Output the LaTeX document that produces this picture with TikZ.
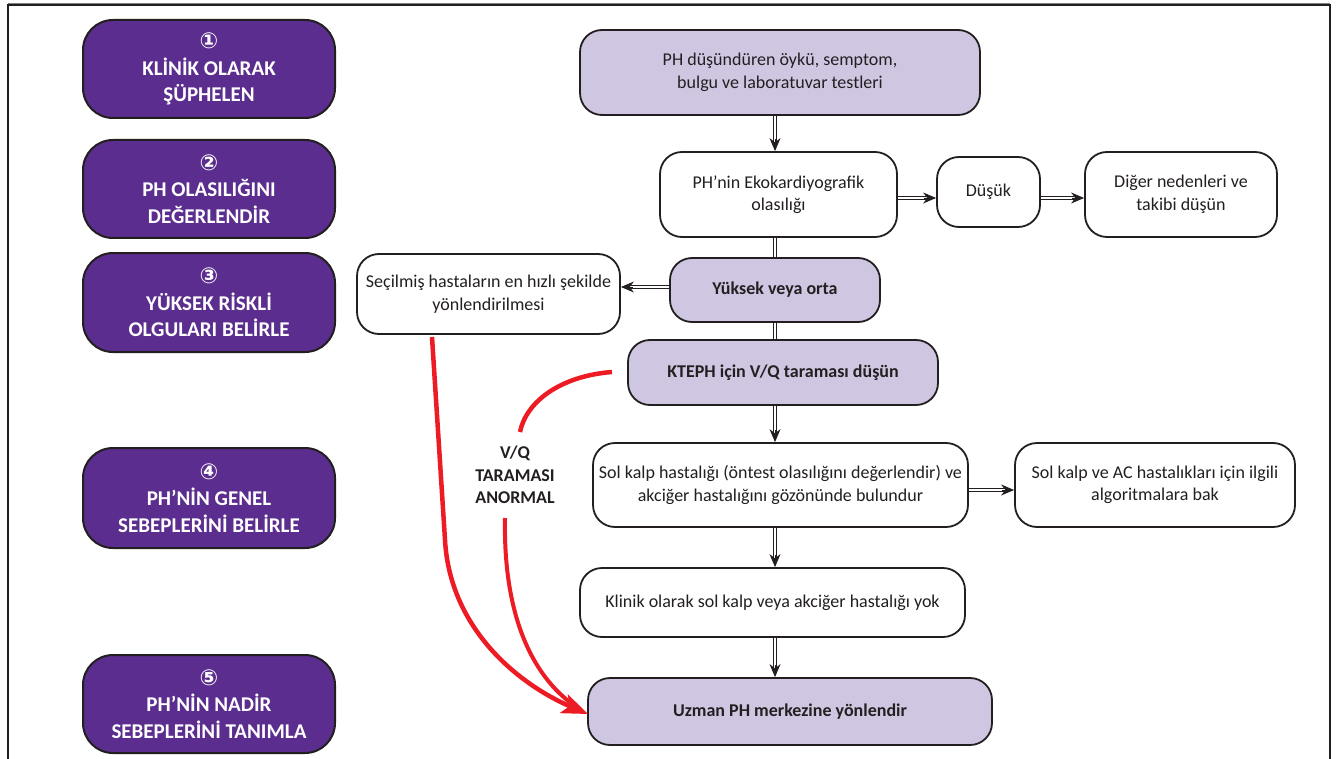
\documentclass[tikz,border=0pt]{standalone}
\usepackage{fontspec}
\setmainfont{Carlito}
\newfontfamily\symfont{DejaVu Sans}
\usetikzlibrary{arrows.meta,calc}
\definecolor{phpurple}{RGB}{91,45,142}
\definecolor{phlav}{RGB}{207,199,226}
\definecolor{phred}{RGB}{237,28,36}
\definecolor{phline}{RGB}{35,31,32}
\newcommand\circnum[1]{{\symfont\fontsize{22}{27}\selectfont #1}}
\begin{document}
\begin{tikzpicture}[x=1pt,y=-1pt,
  stepbox/.style={draw=phline, line width=2pt, rounded corners=30pt, fill=phpurple, text=white,
     font=\bfseries\fontsize{21}{26.5}\selectfont, align=center, minimum width=252pt, inner sep=0pt},
  wbox/.style={draw=phline, line width=1.8pt, rounded corners=22pt, fill=white, text=phline,
     font=\fontsize{18}{22.5}\selectfont, align=center, inner sep=0pt},
  lbox/.style={wbox, fill=phlav},
  lboxb/.style={lbox, font=\bfseries\fontsize{18}{22.5}\selectfont},
  dbl/.style={draw=phline, double=white, double distance=1.8pt, line width=0.9pt},
  tipst/.style={-{Stealth[length=13pt,width=11pt]}, draw=phline, fill=phline, line width=0.9pt},
  redline/.style={draw=phred, line width=4.5pt},
]
\useasboundingbox (0,0) rectangle (1337,759);
% frame
\draw[line width=2pt, draw=phline] (8,759) -- (8,5) -- (1330,5) -- (1330,759);
\draw[line width=1pt, draw=gray] (8,3.5) -- (1330,3.5);

% left step boxes
\node[stepbox, minimum height=98pt] (s1) at (209,69) {\circnum{①}\\KLİNİK OLARAK\\ŞÜPHELEN};
\node[stepbox, minimum height=98pt] (s2) at (209,189) {\circnum{②}\\PH OLASILIĞINI\\DEĞERLENDİR};
\node[stepbox, minimum height=99pt] (s3) at (209,302.5) {\circnum{③}\\YÜKSEK RİSKLİ\\OLGULARI BELİRLE};
\node[stepbox, minimum height=100pt] (s4) at (209,498) {\circnum{④}\\PH’NİN GENEL\\SEBEPLERİNİ BELİRLE};
\node[stepbox, minimum height=98pt] (s5) at (209,704) {\circnum{⑤}\\PH’NİN NADİR\\SEBEPLERİNİ TANIMLA};

% flow boxes
\node[lbox, minimum width=400pt, minimum height=85pt] (a) at (780,72.5) {PH düşündüren öykü, semptom,\\bulgu ve laboratuvar testleri};
\node[wbox, minimum width=237pt, minimum height=85pt] (b) at (778.5,194.5) {PH’nin Ekokardiyografik\\olasılığı};
\node[wbox, minimum width=103pt, minimum height=70pt] (dusuk) at (988.5,192) {Düşük};
\node[wbox, minimum width=192pt, minimum height=85pt] (diger) at (1181,194.5) {Diğer nedenleri ve\\takibi düşün};
\node[wbox, minimum width=263pt, minimum height=80pt] (secil) at (488.5,294) {Seçilmiş hastaların en hızlı şekilde\\yönlendirilmesi};
\node[lboxb, minimum width=210pt, minimum height=64pt] (yuksek) at (775,290) {Yüksek veya orta};
\node[lboxb, minimum width=310pt, minimum height=65pt] (kteph) at (783,372.5) {KTEPH için V/Q taraması düşün};
\node[wbox, minimum width=375pt, minimum height=84pt] (solk) at (780.5,485) {Sol kalp hastalığı (öntest olasılığını değerlendir) ve\\akciğer hastalığını gözönünde bulundur};
\node[wbox, minimum width=280pt, minimum height=84pt] (solac) at (1155,485) {Sol kalp ve AC hastalıkları için ilgili\\algoritmalara bak};
\node[wbox, minimum width=385pt, minimum height=69pt] (klinik) at (772.5,602.5) {Klinik olarak sol kalp veya akciğer hastalığı yok};
\node[lboxb, minimum width=404pt, minimum height=67pt] (uzman) at (790,711.5) {Uzman PH merkezine yönlendir};

\node[font=\bfseries\fontsize{18}{22.5}\selectfont, align=center, text=phline] (vq) at (515,475) {V/Q\\TARAMASI\\ANORMAL};

% column coordinate
\coordinate (col) at (775,0);

% plain double connectors
\draw[dbl] (b.south -| col) -- (yuksek.north -| col);
\draw[dbl] (yuksek.south -| col) -- (kteph.north -| col);

% double arrows
\newcommand\darr[2]{%
  \draw[dbl, shorten >=9pt] (#1) -- (#2);
  \draw[tipst] ($(#2)!12pt!(#1)$) -- (#2);}
\darr{a.south -| col}{b.north -| col}
\darr{kteph.south -| col}{solk.north -| col}
\darr{solk.south -| col}{klinik.north -| col}
\darr{klinik.south -| col}{uzman.north -| col}
\coordinate (r1) at (0,198);
\darr{b.east |- r1}{dusuk.west |- r1}
\darr{dusuk.east |- r1}{diger.west |- r1}
\coordinate (r2) at (0,287);
\darr{yuksek.west |- r2}{secil.east |- r2}
\coordinate (r3) at (0,490);
\darr{solk.east |- r3}{solac.west |- r3}

% red connectors
\coordinate (red1s) at (432,337);
\coordinate (red2s) at (612,372);
\coordinate (red2e) at (520,432);
\coordinate (red3s) at (505,518);
\coordinate (redtip) at (588,714);
\draw[redline] (red2s) .. controls (560,376) and (526,402) .. (red2e);
\draw[redline, line width=4pt] (red3s) .. controls (503,620) and (535,680) .. (578,708);
\draw[redline, -{Stealth[length=26pt,width=20pt,inset=6pt]}] (red1s) -- (445,540) .. controls (450,630) and (520,685) .. (redtip);
\end{tikzpicture}
\end{document}
